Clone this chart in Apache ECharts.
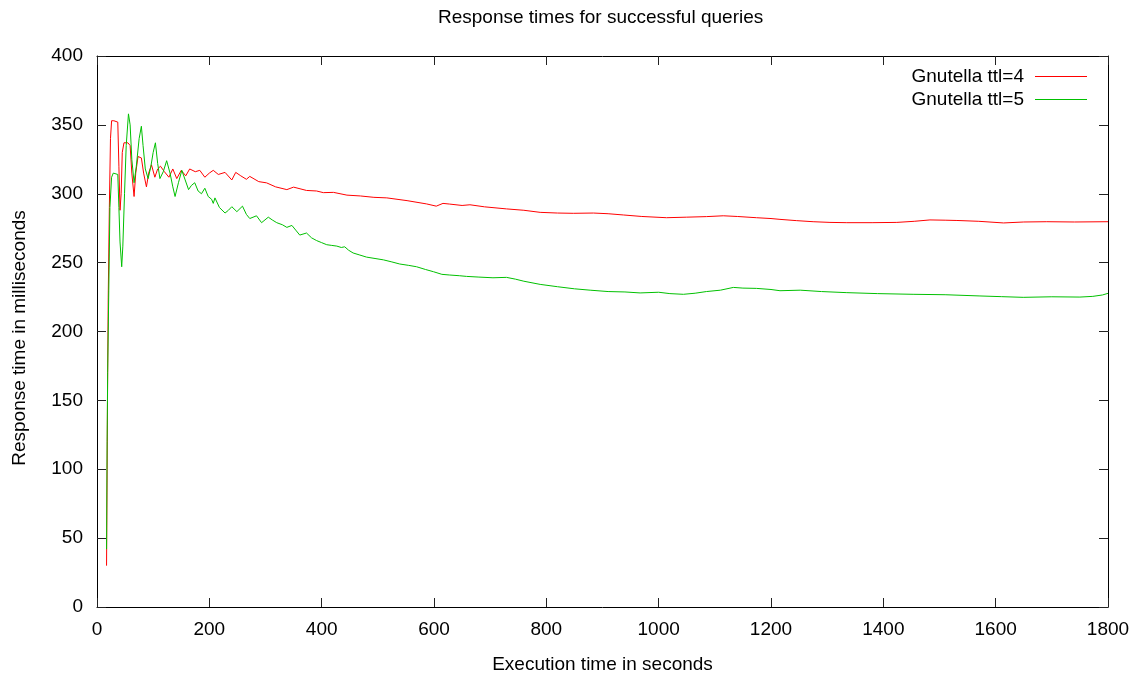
<!DOCTYPE html>
<html>
<head>
<meta charset="utf-8">
<script src="https://cdn.jsdelivr.net/npm/echarts@6/dist/echarts.min.js"></script>
<style>
  html, body { margin: 0; padding: 0; background: #fff; }
  #chart { width: 1134px; height: 673px; }
</style>
</head>
<body>
<div id="chart"></div>
<script>
// [seconds, ms]
const ttl4 = [
  [17, 30], [18, 100], [19, 170], [20, 225], [22, 290], [24, 340], [26, 353], [30, 353], [37, 352],
  [39, 320], [41, 288], [43, 300], [45, 330], [48, 337], [55, 337], [59, 335], [62, 315], [66, 298],
  [69, 315], [73, 327], [79, 326], [83, 315], [88, 305], [92, 315], [97, 321], [103, 312], [108, 318],
  [113, 320], [120, 316], [128, 312], [135, 318], [142, 311], [150, 317], [158, 313], [165, 318],
  [175, 316], [183, 317], [192, 312], [200, 315], [207, 317], [216, 314], [228, 315.5], [240, 310],
  [247, 315.5], [256, 313], [266, 310.5], [272, 312.6], [288, 308.8], [302, 307.9], [318, 305],
  [338, 303], [350, 304.8], [373, 302.4], [391, 302], [403, 300.8], [421, 301], [445, 299],
  [469, 298.4], [493, 297.4], [516, 297], [552, 295], [587, 292.6], [604, 291], [616, 293],
  [628, 292.5], [650, 291.5], [664, 292], [690, 290.5], [729, 289], [760, 288], [789, 286.5],
  [820, 286], [848, 285.8], [884, 286], [910, 285.5], [937, 284.6], [970, 283.5], [1014, 282.6],
  [1050, 283], [1085, 283.4], [1115, 284], [1140, 283.5], [1174, 282.6], [1200, 282], [1216, 281.4],
  [1245, 280.5], [1275, 279.7], [1305, 279.2], [1335, 279], [1380, 279], [1424, 279.2], [1455, 280],
  [1483, 281], [1510, 280.8], [1531, 280.6], [1570, 280], [1614, 278.8], [1650, 279.5], [1691, 279.7],
  [1740, 279.5], [1800, 279.7]
];

const ttl5 = [
  [17, 42], [18, 120], [19, 170], [21, 230], [23, 290], [26, 312], [29, 315], [37, 314], [39, 290],
  [41, 265], [44, 247], [46, 262], [49, 300], [52, 335], [56, 358], [59, 350], [62, 325], [66, 308],
  [70, 320], [75, 340], [79, 349], [82, 335], [86, 318], [91, 311], [96, 320], [100, 330], [104, 337],
  [108, 322], [112, 311], [118, 316], [124, 324], [130, 315], [135, 305], [139, 298], [145, 308],
  [151, 317], [157, 310], [163, 303], [168, 306], [174, 308], [180, 302], [186, 300], [192, 304],
  [198, 298], [204, 296], [207, 293], [210, 297], [218, 290], [228, 286], [234, 288], [240, 290.6],
  [249, 287], [259, 291], [266, 285], [272, 282], [284, 284], [293, 279], [305, 283], [312, 281],
  [320, 279], [330, 277.5], [338, 275.6], [347, 277], [355, 273], [361, 270], [373, 271.5], [382, 268],
  [391, 266], [400, 264.5], [409, 263], [418, 262.5], [427, 262], [435, 261], [441, 261.5], [448, 259],
  [456, 257], [468, 255.5], [480, 254], [495, 253], [510, 252], [525, 250.5], [539, 249], [555, 248],
  [569, 247], [585, 245], [599, 243.4], [614, 241.5], [628, 241], [645, 240.5], [658, 240], [680, 239.5],
  [705, 239], [729, 239.3], [745, 238], [760, 236.5], [789, 234.2], [820, 232.5], [850, 231], [878, 230],
  [910, 229], [940, 228.7], [967, 228], [1000, 228.5], [1020, 227.5], [1044, 227], [1065, 227.8],
  [1085, 229], [1110, 230], [1133, 232], [1150, 231.5], [1174, 231.3], [1200, 230.5], [1216, 229.6],
  [1252, 230], [1290, 229], [1335, 228.2], [1390, 227.5], [1453, 227], [1510, 226.7], [1572, 225.8],
  [1610, 225.3], [1649, 224.8], [1700, 225.2], [1750, 225], [1773, 225.5], [1790, 226.5], [1800, 227.7]
];

const seriesNames = ['Gnutella ttl=4', 'Gnutella ttl=5'];
const fontFamily = '"Liberation Sans", Arial, sans-serif';
const fs = 19;

const chart = echarts.init(document.getElementById('chart'));

// gnuplot style: box border, ticks pointing in on all four sides
const tickStyle = () => ({ show: true, inside: true, length: 9, lineStyle: { color: '#222', width: 1 } });
const lineAxis = () => ({ show: true, onZero: false, lineStyle: { color: '#000', width: 1 } });

const option = {
  animation: false,
  title: {
    text: 'Response times for successful queries',
    left: 438,
    top: 8,
    padding: 0,
    textStyle: { fontFamily, fontSize: fs, fontWeight: 'normal', color: '#000' }
  },
  legend: {
    data: seriesNames,
    orient: 'vertical',
    right: 47,
    top: 67,
    align: 'right',
    icon: 'rect',
    itemWidth: 52,
    itemHeight: 1,
    itemGap: 4,
    padding: 0,
    textStyle: { fontFamily, fontSize: fs, color: '#000', padding: [0, 6, 0, 0] }
  },
  grid: { left: 97, right: 26, top: 56, bottom: 66, outerBoundsMode: 'none' },
  xAxis: [
    {
      type: 'value', min: 0, max: 1800, interval: 200,
      name: 'Execution time in seconds', nameLocation: 'middle', nameGap: 48,
      nameTextStyle: { fontFamily, fontSize: fs, color: '#000' },
      axisLine: lineAxis(), axisTick: tickStyle(), splitLine: { show: false },
      axisLabel: { fontFamily, fontSize: fs, color: '#000', margin: 13, formatter: v => String(v) }
    },
    {
      type: 'value', min: 0, max: 1800, interval: 200, position: 'top',
      axisLine: lineAxis(), axisTick: tickStyle(), splitLine: { show: false },
      axisLabel: { show: false }
    }
  ],
  yAxis: [
    {
      type: 'value', min: 0, max: 400, interval: 50,
      name: 'Response time in milliseconds', nameLocation: 'middle', nameGap: 68,
      nameTextStyle: { fontFamily, fontSize: fs, color: '#000', padding: [0, 13, 0, 0] },
      axisLine: lineAxis(), axisTick: tickStyle(), splitLine: { show: false },
      axisLabel: { fontFamily, fontSize: fs, color: '#000', margin: 14 }
    },
    {
      type: 'value', min: 0, max: 400, interval: 50, position: 'right',
      axisLine: lineAxis(), axisTick: tickStyle(), splitLine: { show: false },
      axisLabel: { show: false }
    }
  ],
  series: [
    {
      name: seriesNames[0], type: 'line', data: ttl4, symbol: 'none',
      color: '#ff0000', lineStyle: { width: 1, color: '#ff0000' }
    },
    {
      name: seriesNames[1], type: 'line', data: ttl5, symbol: 'none',
      color: '#00c000', lineStyle: { width: 1, color: '#00c000' }
    }
  ]
};

chart.setOption(option);
</script>
</body>
</html>
